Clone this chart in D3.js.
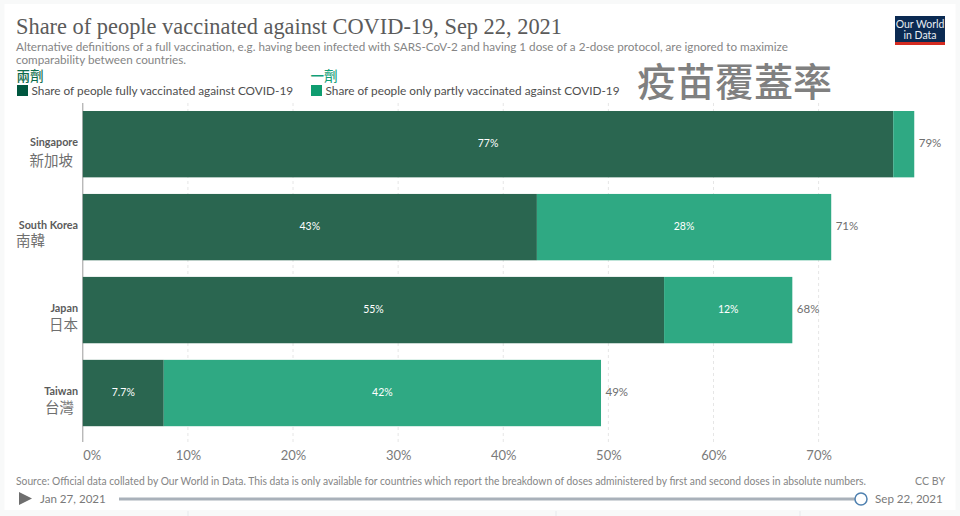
<!DOCTYPE html>
<html><head><meta charset="utf-8">
<script src="https://cdn.jsdelivr.net/npm/d3@7"></script>
<style>
html,body{margin:0;padding:0;background:#fff}
svg{display:block}
text{font-family:Lato,sans-serif}
.cjk{font-family:"Noto Sans CJK TC",sans-serif}
</style></head><body>
<svg id="c" width="960" height="516"></svg>
<script>
const countries = ["Singapore","South Korea","Japan","Taiwan"];
const countriesZh = ["新加坡","南韓","日本","台灣"];
const fullyVaccinated = [77.1,43.2,55.3,7.7];
const partlyVaccinated = [2.0,28.0,12.2,41.6];
const fullyLabels = ["77%","43%","55%","7.7%"];
const partlyLabels = ["","28%","12%","42%"];
const totalLabels = ["79%","71%","68%","49%"];
const xTicks = [0,10,20,30,40,50,60,70];
const seriesNames = ["Share of people fully vaccinated against COVID-19","Share of people only partly vaccinated against COVID-19"];
const seriesZh = ["兩劑","一劑"];
const colors = ["#2a6650","#2fa983"];
const legendColors = ["#00573f","#0f9d70"];

const svg = d3.select("#c");
const x = d3.scaleLinear().domain([0,70]).range([82.8,818.6]);
const y = d3.scaleBand().domain(countries).range([102.7,434.5]).paddingInner(0.2).paddingOuter(0.1);

// page frame
svg.append("rect").attr("width",960).attr("height",516).attr("fill","#f8f9f9");
svg.append("rect").attr("x",4.5).attr("y",4).attr("width",951).attr("height",506).attr("fill","#fff");
svg.append("g").selectAll("line").data([188,556,800]).join("line")
  .attr("x1",d=>d).attr("x2",d=>d).attr("y1",511).attr("y2",516).attr("stroke","#e6e9ec");

// header
svg.append("text").attr("x",16).attr("y",34).attr("fill","#5b5b5b")
  .attr("textLength",546).attr("lengthAdjust","spacingAndGlyphs")
  .style("font-family","'Liberation Serif',serif").style("font-size","24px")
  .text("Share of people vaccinated against COVID-19, Sep 22, 2021");
svg.append("g").selectAll("text")
  .data(["Alternative definitions of a full vaccination, e.g. having been infected with SARS-CoV-2 and having 1 dose of a 2-dose protocol, are ignored to maximize","comparability between countries."])
  .join("text").attr("x",16).attr("y",(d,i)=>50.5+i*13.5).attr("fill","#858585").style("font-size","11.7px").text(d=>d);

// logo
svg.append("rect").attr("x",895).attr("y",16).attr("width",50).attr("height",28).attr("fill","#0b2a52");
svg.append("rect").attr("x",895).attr("y",42).attr("width",50).attr("height",3).attr("fill","#d42b21");
svg.append("g").selectAll("text").data(["Our World","in Data"]).join("text")
  .attr("x",920).attr("y",(d,i)=>27.5+i*11).attr("text-anchor","middle").attr("fill","#e8edf3").style("font-size","10.5px").text(d=>d);

// legend
const legendX = [17,311];
const lg = svg.append("g").selectAll("g").data(seriesNames).join("g");
lg.append("rect").attr("x",(d,i)=>legendX[i]).attr("y",85).attr("width",11).attr("height",11).attr("fill",(d,i)=>legendColors[i]);
lg.append("text").attr("x",(d,i)=>legendX[i]+14.5).attr("y",94.5).attr("fill","#4e4e4e").style("font-size","11.8px").text(d=>d);
svg.append("g").selectAll("text").data(seriesZh).join("text").attr("class","cjk")
  .attr("x",(d,i)=>legendX[i]-0.5).attr("y",81).attr("fill",(d,i)=>i?"#12a078":"#0d6b4b")
  .style("font-size","13.5px").style("font-weight",500).text(d=>d);
svg.append("text").attr("class","cjk").attr("x",637).attr("y",96).attr("fill","#808080")
  .style("font-size","39px").style("font-weight",500).text("疫苗覆蓋率");

// grid
svg.append("g").selectAll("line").data(xTicks.slice(1)).join("line")
  .attr("x1",d=>x(d)).attr("x2",d=>x(d)).attr("y1",103).attr("y2",442)
  .attr("stroke","#e6e6e6").attr("stroke-dasharray","3,3");
svg.append("line").attr("x1",x(0)).attr("x2",x(0)).attr("y1",103).attr("y2",442).attr("stroke","#9c9c9c");

// bars
const rows = svg.append("g").selectAll("g").data(countries).join("g");
rows.append("rect").attr("x",x(0)).attr("y",d=>y(d)).attr("height",y.bandwidth())
  .attr("width",(d,i)=>x(fullyVaccinated[i])-x(0)).attr("fill",colors[0]);
rows.append("rect").attr("x",(d,i)=>x(fullyVaccinated[i])).attr("y",d=>y(d)).attr("height",y.bandwidth())
  .attr("width",(d,i)=>x(fullyVaccinated[i]+partlyVaccinated[i])-x(fullyVaccinated[i])).attr("fill",colors[1]);
const cy = d=>y(d)+y.bandwidth()/2+2.5;
rows.append("text").attr("x",(d,i)=>x(fullyVaccinated[i]/2)).attr("y",cy).attr("text-anchor","middle")
  .attr("fill","#fff").style("font-size","10.5px").text((d,i)=>fullyLabels[i]);
rows.append("text").attr("x",(d,i)=>x(fullyVaccinated[i]+partlyVaccinated[i]/2)).attr("y",cy).attr("text-anchor","middle")
  .attr("fill","#fff").style("font-size","10.5px").text((d,i)=>partlyLabels[i]);
rows.append("text").attr("x",(d,i)=>x(fullyVaccinated[i]+partlyVaccinated[i])+4.5).attr("y",cy).attr("fill","#6e6e6e")
  .style("font-size","11.5px").text((d,i)=>totalLabels[i]);
rows.append("text").attr("x",78).attr("y",d=>y(d)+35).attr("text-anchor","end").attr("fill","#5b5b5b")
  .style("font-size","10.8px").style("font-weight",700).text(d=>d);
const zhRight = [73,45,78,74], zhDy = [55.5,52.5,53.5,53.5];
rows.append("text").attr("class","cjk").attr("x",(d,i)=>zhRight[i]).attr("y",(d,i)=>y(d)+zhDy[i])
  .attr("text-anchor","end").attr("fill","#6f6f6f").style("font-size","14.5px").text((d,i)=>countriesZh[i]);

// x axis labels
const axis = d3.axisBottom(x).tickValues(xTicks).tickFormat(d=>d+"%").tickSize(0);
const ax = svg.append("g").attr("transform","translate(0,447)").call(axis);
ax.select(".domain").remove();
ax.selectAll("text").attr("fill","#7a7a7a").attr("dy",0).attr("y",13).style("font-size","13px");
ax.selectAll("text").filter(d=>d===0).attr("dx",9);

// footer
svg.append("text").attr("x",16).attr("y",485).attr("fill","#858585").attr("textLength",850).attr("lengthAdjust","spacingAndGlyphs").style("font-size","10.9px")
  .text("Source: Official data collated by Our World in Data. This data is only available for countries which report the breakdown of doses administered by first and second doses in absolute numbers.");
svg.append("text").attr("x",945).attr("y",485).attr("text-anchor","end").attr("fill","#858585").style("font-size","10.6px").text("CC BY");
svg.append("path").attr("d",d3.line()([[19,492],[19,505],[32,498.5]])+"Z").attr("fill","#6e6e6e");
svg.append("text").attr("x",40).attr("y",503).attr("fill","#7a7a7a").style("font-size","11.6px").text("Jan 27, 2021");
svg.append("line").attr("x1",119).attr("x2",861).attr("y1",499).attr("y2",499).attr("stroke","#a9b1ba").attr("stroke-width",3);
svg.append("circle").attr("cx",861).attr("cy",499).attr("r",6).attr("fill","#fff").attr("stroke","#4f81b0").attr("stroke-width",1.5);
svg.append("text").attr("x",875).attr("y",503).attr("fill","#7a7a7a").style("font-size","11.6px").text("Sep 22, 2021");
</script></body></html>
